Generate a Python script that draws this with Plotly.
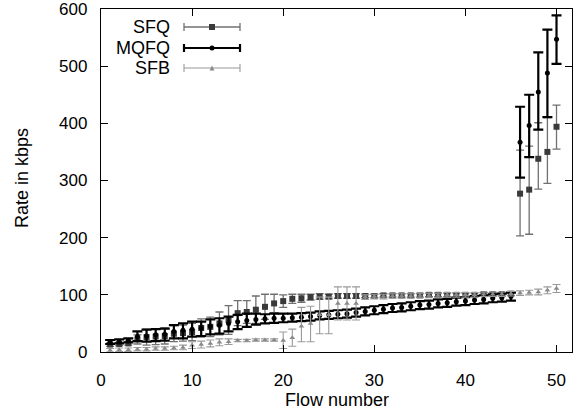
import plotly.graph_objects as go

flows = list(range(1, 51))

sfq_rate = [13, 14, 15, 22, 26, 27, 28, 32, 33, 35,
            42, 44, 50, 56, 68, 70, 74, 79, 85, 89,
            93, 94, 96, 97, 97, 98, 98, 98, 98, 98,
            99, 99, 99, 99, 99, 100, 100, 100, 100, 100,
            100, 101, 101, 101, 102, 277, 284, 338, 350, 394]
sfq_err_up = [3, 3, 3, 8, 14, 14, 14, 14, 14, 15,
              16, 17, 20, 25, 22, 20, 24, 22, 16, 11,
              8, 7, 5, 5, 4, 4, 4, 4, 3, 3,
              3, 3, 3, 3, 3, 3, 3, 3, 3, 3,
              3, 3, 3, 3, 3, 76, 76, 63, 60, 38]
sfq_err_dn = [3, 3, 3, 8, 14, 14, 14, 14, 14, 15,
              16, 17, 20, 25, 22, 20, 24, 22, 16, 11,
              8, 7, 5, 5, 4, 4, 4, 4, 3, 3,
              3, 3, 3, 3, 3, 3, 3, 3, 3, 3,
              3, 3, 3, 3, 3, 74, 78, 53, 55, 39]

mqfq_rate = [17, 18, 20, 27, 28, 30, 31, 36, 38, 40,
             42, 45, 47, 50, 53, 55, 57, 58, 59, 59,
             60, 61, 62, 64, 65, 66, 67, 69, 71, 73,
             75, 77, 78, 80, 82, 83, 85, 86, 88, 89,
             91, 92, 94, 95, 97, 367, 396, 455, 488, 547]
mqfq_err_up = [4, 4, 4, 9, 11, 10, 10, 11, 12, 13,
               11, 12, 12, 12, 12, 12, 10, 8, 8, 8,
               7, 7, 7, 7, 7, 7, 7, 7, 7, 7,
               7, 7, 7, 7, 7, 7, 7, 7, 7, 7,
               7, 7, 7, 7, 7, 62, 54, 69, 76, 42]
mqfq_err_dn = [3, 3, 3, 8, 10, 11, 11, 12, 14, 13,
               14, 14, 15, 14, 13, 11, 9, 8, 8, 7,
               7, 7, 7, 7, 7, 7, 7, 7, 7, 7,
               7, 7, 7, 7, 7, 7, 7, 7, 7, 7,
               7, 7, 7, 7, 7, 62, 55, 66, 77, 43]

sfb_rate = [3, 4, 4, 5, 5, 6, 6, 7, 8, 12,
            13, 15, 17, 18, 20, 20, 21, 21, 21, 20,
            25, 45, 50, 65, 65, 85, 85, 85, 96, 97,
            97, 98, 98, 98, 99, 99, 99, 100, 100, 100,
            100, 101, 101, 101, 102, 103, 104, 105, 108, 111]
sfb_err_up = [3, 3, 3, 3, 3, 3, 3, 3, 4, 6,
              6, 6, 6, 5, 2, 2, 2, 2, 2, 15,
              15, 33, 30, 31, 31, 29, 29, 29, 4, 4,
              4, 4, 4, 4, 4, 4, 4, 4, 4, 4,
              4, 4, 4, 4, 4, 4, 4, 5, 6, 7]
sfb_err_dn = [3, 3, 3, 3, 3, 3, 3, 3, 4, 6,
              6, 6, 6, 5, 2, 2, 2, 2, 2, 14,
              15, 27, 32, 33, 33, 29, 29, 29, 4, 4,
              4, 4, 4, 4, 4, 4, 4, 4, 4, 4,
              4, 4, 4, 4, 4, 4, 4, 5, 6, 7]

series_names = ["SFQ", "MQFQ", "SFB"]
x_ticks = [0, 10, 20, 30, 40, 50]
y_ticks = [0, 100, 200, 300, 400, 500, 600]
x_title = "Flow number"
y_title = "Rate in kbps"

FONT = "Liberation Sans, Arial, Helvetica, sans-serif"

styles = {
    "SFQ": dict(sym="square", msize=6, mcol="#3a3a3a", ecol="#707070", eth=1.3, ew=4),
    "MQFQ": dict(sym="circle", msize=5, mcol="#000000", ecol="#000000", eth=2.2, ew=5),
    "SFB": dict(sym="triangle-up", msize=5, mcol="#8a8a8a", ecol="#9a9a9a", eth=1.1, ew=4),
}
data = {
    "SFQ": (sfq_rate, sfq_err_up, sfq_err_dn),
    "MQFQ": (mqfq_rate, mqfq_err_up, mqfq_err_dn),
    "SFB": (sfb_rate, sfb_err_up, sfb_err_dn),
}

fig = go.Figure()
for name in series_names:
    st = styles[name]
    r, up, dn = data[name]
    fig.add_trace(go.Scatter(
        x=flows, y=r, mode="markers", name=name, showlegend=False,
        marker=dict(symbol=st["sym"], size=st["msize"], color=st["mcol"], line=dict(width=0)),
        error_y=dict(type="data", array=up, arrayminus=dn, symmetric=False,
                     color=st["ecol"], thickness=st["eth"], width=st["ew"]),
    ))

# plot area in pixels
L, R, T, B = 101, 572, 9, 352
W, H = R - L, B - T

def px(xp):
    return (xp - L) / W

def py(yp):
    return (B - yp) / H

shapes = []
annotations = []
rows = [27, 48, 68]
for name, yrow in zip(series_names, rows):
    st = styles[name]
    x0, x1, xm = px(184), px(240), px(212)
    yc = py(yrow)
    cap = 4 / H
    shapes.append(dict(type="line", xref="paper", yref="paper", x0=x0, x1=x1, y0=yc, y1=yc,
                       line=dict(color=st["ecol"], width=st["eth"])))
    for xe in (x0, x1):
        shapes.append(dict(type="line", xref="paper", yref="paper", x0=xe, x1=xe,
                           y0=yc - cap, y1=yc + cap, line=dict(color=st["ecol"], width=st["eth"])))
    hw = (st["msize"] / 2) / W
    hh = (st["msize"] / 2) / H
    if st["sym"] == "square":
        shapes.append(dict(type="rect", xref="paper", yref="paper", x0=xm - hw, x1=xm + hw,
                           y0=yc - hh, y1=yc + hh, fillcolor=st["mcol"], line=dict(width=0)))
    elif st["sym"] == "circle":
        shapes.append(dict(type="circle", xref="paper", yref="paper", x0=xm - hw, x1=xm + hw,
                           y0=yc - hh, y1=yc + hh, fillcolor=st["mcol"], line=dict(width=0)))
    else:
        path = f"M {xm - hw} {yc - hh} L {xm + hw} {yc - hh} L {xm} {yc + hh} Z"
        shapes.append(dict(type="path", xref="paper", yref="paper", path=path,
                           fillcolor=st["mcol"], line=dict(width=0)))
    annotations.append(dict(text=name, xref="paper", yref="paper", x=px(172), y=yc,
                            xanchor="right", yanchor="middle", showarrow=False,
                            font=dict(family=FONT, size=18, color="black")))

# axis titles
annotations.append(dict(text=x_title, xref="paper", yref="paper", x=px(337), y=py(400),
                        xanchor="center", yanchor="middle", showarrow=False,
                        font=dict(family=FONT, size=18, color="black")))
annotations.append(dict(text=y_title, xref="paper", yref="paper", x=px(22), y=py(178),
                        xanchor="center", yanchor="middle", showarrow=False, textangle=-90,
                        font=dict(family=FONT, size=18, color="black")))

axis_common = dict(showgrid=False, zeroline=False, showline=True, linecolor="black",
                   linewidth=1.3, mirror="ticks", ticks="inside", ticklen=7,
                   tickcolor="black", tickwidth=1.3, automargin=False,
                   ticklabeloverflow="allow",
                   tickfont=dict(family=FONT, size=17, color="black"))

fig.update_layout(
    width=582, height=414,
    margin=dict(l=L, r=582 - R, t=T, b=414 - B),
    paper_bgcolor="white", plot_bgcolor="white",
    xaxis=dict(range=[0, 51.7], tickvals=x_ticks, ticklabelstandoff=12, **axis_common),
    yaxis=dict(range=[0, 600], tickvals=y_ticks, ticklabelstandoff=9, **axis_common),
    shapes=shapes, annotations=annotations,
)

fig.write_html("out.html")
